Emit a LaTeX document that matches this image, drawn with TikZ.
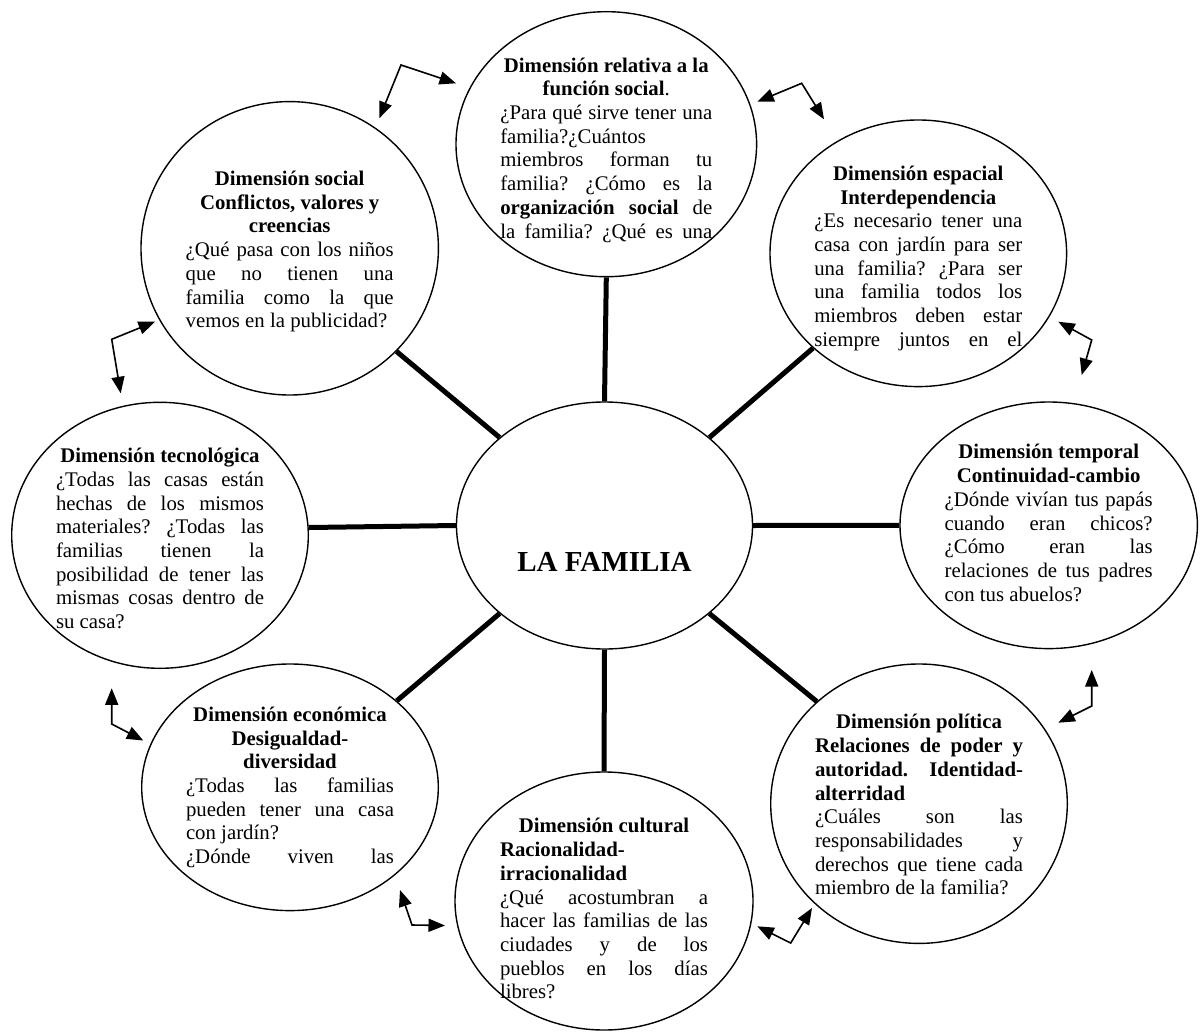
\documentclass[tikz,border=0pt]{standalone}
\usepackage{fontspec}
\setmainfont{Liberation Serif}
\usepackage{tikz}
\usetikzlibrary{arrows.meta}
\usetikzlibrary{shapes.geometric}
\usetikzlibrary{positioning}
\frenchspacing
\tikzset{
    dim/.style 2 args = {ellipse, draw=black, line width=1.4pt, inner sep=0pt, minimum width=#1pt, minimum height=#2pt},
    txt/.style = {inner sep=0pt, anchor=north, text width=208pt, align=justify, font=\fontsize{20.8}{23.7}\selectfont},
    spoke/.style = {line width=5pt},
    link/.style = {<->, line width=1.6pt}
}
\begin{document}
\begin{tikzpicture}[x=1pt, y=-1pt, >={Triangle[length=16.5pt, width=13pt]}]
    \useasboundingbox (0,0) rectangle (1204,1032);

    \node [dim={300.6}{265}] (funcion) at (606.3,144.2) {};
    \node [dim={297.4}{293.4}] (social) at (289.7,248.3) {};
    \node [dim={296.6}{266.6}] (espacial) at (918.3,253.3) {};
    \node [dim={296.6}{266}] (tecno) at (160,535.3) {};
    \node [dim={296}{247}] (central) at (604.5,525.5) {};
    \node [dim={297.4}{246.6}] (temporal) at (1048.7,525.3) {};
    \node [dim={296.6}{246.6}] (economica) at (290,787.3) {};
    \node [dim={298}{258}] (cultural) at (604,901) {};
    \node [dim={296.6}{279.4}] (politica) at (919,803.7) {};

    \node [inner sep=0pt, font=\fontsize{29}{34}\selectfont\bfseries] (familia) at ([yshift=-36.5pt]central.center) {LA FAMILIA};

    \node [txt, text width=212pt, below=46.5pt of funcion.north] (funciontxt)
        {{\centering\bfseries Dimensión relativa a la\par función social\mdseries.\par}
        ¿Para qué sirve tener una\linebreak familia?¿Cuántos\par
        miembros forman tu\linebreak familia? ¿Cómo es la\linebreak \textbf{organización social} de\linebreak la familia? ¿Qué es una\linebreak};
    \node [txt, below=70pt of social.north] (socialtxt)
        {{\centering\bfseries Dimensión social\par Conflictos, valores y\par creencias\par}
        ¿Qué pasa con los niños\linebreak que no tienen una\linebreak familia como la que\linebreak vemos en la publicidad?};
    \node [txt, below=46.5pt of espacial.north] (espacialtxt)
        {{\centering\bfseries Dimensión espacial\par Interdependencia\par}
        ¿Es necesario tener una\linebreak casa con jardín para ser\linebreak una familia? ¿Para ser\linebreak una familia todos los\linebreak miembros deben estar\linebreak siempre juntos en el\linebreak};
    \node [txt, below=46.5pt of tecno.north] (tecnotxt)
        {{\centering\bfseries Dimensión tecnológica\par}
        ¿Todas las casas están\linebreak hechas de los mismos\linebreak materiales? ¿Todas las\linebreak familias tienen la\linebreak posibilidad de tener las\linebreak mismas cosas dentro de\linebreak su casa?};
    \node [txt, below=43pt of temporal.north] (temporaltxt)
        {{\centering\bfseries Dimensión temporal\par Continuidad-cambio\par}
        ¿Dónde vivían tus papás\linebreak cuando eran chicos?\linebreak ¿Cómo eran las\linebreak relaciones de tus padres\linebreak con tus abuelos?};
    \node [txt, below=43.5pt of economica.north] (economicatxt)
        {{\centering\bfseries Dimensión económica\par Desigualdad-\par diversidad\par}
        ¿Todas las familias\linebreak pueden tener una casa\linebreak con jardín?\par
        ¿Dónde viven las\linebreak};
    \node [txt, below=47pt of cultural.north] (culturaltxt)
        {{\centering\bfseries Dimensión cultural\par}
        {\bfseries Racionalidad-\par irracionalidad\par}
        ¿Qué acostumbran a\linebreak hacer las familias de las\linebreak ciudades y de los\linebreak pueblos en los días\linebreak libres?};
    \node [txt, below=51pt of politica.north] (politicatxt)
        {{\centering\bfseries Dimensión política\par}
        {\bfseries Relaciones de poder y\linebreak autoridad. Identidad-\linebreak alterridad\par}
        ¿Cuáles son las\linebreak responsabilidades y\linebreak derechos que tiene cada\linebreak miembro de la familia?};

    \draw [spoke] (central.north) -- (funcion.south);
    \draw [spoke] (central.40) -- (espacial.222.6);
    \draw [spoke] (central.east) -- (temporal.west);
    \draw [spoke] (central.320) -- (politica.135.5);
    \draw [spoke] (central.south) -- (cultural.north);
    \draw [spoke] (central.220) -- (economica.39.7);
    \draw [spoke] (central.west) -- (tecno.3.7);
    \draw [spoke] (central.140) -- (social.316.3);

    \coordinate (fs-a) at (456,83.3);     \coordinate (fs-m) at (401,65);      \coordinate (fs-b) at (379.3,118.3);
    \coordinate (fe-a) at (757.3,101.7);  \coordinate (fe-m) at (801.7,83.3);  \coordinate (fe-b) at (824,119.3);
    \coordinate (et-a) at (1058.3,321.7); \coordinate (et-m) at (1091.7,340);  \coordinate (et-b) at (1081.7,375);
    \coordinate (tp-a) at (1091.7,670);   \coordinate (tp-m) at (1091.7,706);  \coordinate (tp-b) at (1058.3,722.7);
    \coordinate (pc-a) at (812,908);      \coordinate (pc-m) at (790.7,943);   \coordinate (pc-b) at (757.3,926.3);
    \coordinate (ce-a) at (445,925.5);    \coordinate (ce-m) at (412,925);     \coordinate (ce-b) at (400,890);
    \coordinate (ek-a) at (143.3,740.5);  \coordinate (ek-m) at (111.7,724);   \coordinate (ek-b) at (111.7,688.3);
    \coordinate (ks-a) at (120.7,393.3);  \coordinate (ks-m) at (111.7,339.3); \coordinate (ks-b) at (155,321.7);

    \foreach \f in {fs,fe,et,tp,pc,ce,ek,ks}
        \draw [link] (\f-a) -- (\f-m) -- (\f-b);
\end{tikzpicture}
\end{document}
